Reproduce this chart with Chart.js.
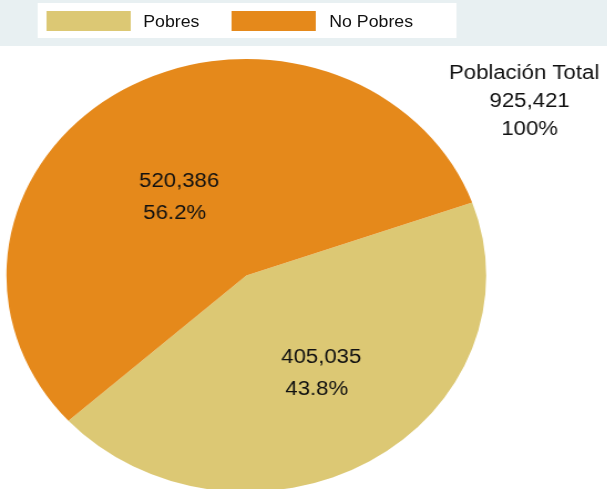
<!DOCTYPE html>
<html>
<head>
<meta charset="utf-8">
<script src="https://cdn.jsdelivr.net/npm/chart.js@4/dist/chart.umd.min.js"></script>
<style>
    body { margin: 0; overflow: hidden; background: #fff; font-family: "Liberation Sans", Arial, sans-serif; }
    #page { position: absolute; left: 0; top: 0; width: 548px; height: 500px; transform: scaleX(1.108); transform-origin: 0 0; }
    .band { position: absolute; left: 0; top: 0; width: 100%; height: 46px; background: #E8F0F2; }
    .legend-box { position: absolute; left: 34px; top: 3px; width: 378px; height: 35px; background: #fff; }
    .swatch { position: absolute; top: 8px; width: 76px; height: 20px; }
    .legend-text { position: absolute; top: 9px; font-size: 16px; line-height: 20px; color: #111; white-space: nowrap; }
    #chartWrap { position: absolute; left: 0; top: 0; }
</style>
</head>
<body>
<div id="page">
    <div class="band"></div>
    <div class="legend-box" id="legend"></div>
    <div id="chartWrap"><canvas id="pieChart" width="548" height="500"></canvas></div>
</div>
<script>
// Data
const categories = ['Pobres', 'No Pobres'];
const population = [405035, 520386];
const percentLabels = ['43.8%', '56.2%'];
const totalLines = ['Población Total', '925,421', '100%'];
const sliceColors = ['#DCC874', '#E5891B'];

// Legend (html, from the arrays above)
const legendPos = [{ sw: 7.5, tx: 95.3 }, { sw: 175.4, tx: 263.2 }];
document.getElementById('legend').innerHTML = categories.map((c, i) => `
    <div class="swatch" style="left:${legendPos[i].sw}px;background:${sliceColors[i]}"></div>
    <div class="legend-text" style="left:${legendPos[i].tx}px">${c}</div>
`).join('');

// small nudges of the label block off the arc's middle point
const labelNudge = [{ x: 12, y: 3 }, { x: -5, y: 12 }];

const labelPlugin = {
    id: 'sliceLabels',
    afterDatasetsDraw(chart) {
        const ctx = chart.ctx;
        const meta = chart.getDatasetMeta(0);
        ctx.save();
        ctx.fillStyle = '#111';
        ctx.font = '20px "Liberation Sans", Arial, sans-serif';
        ctx.textAlign = 'center';
        ctx.textBaseline = 'alphabetic';

        meta.data.forEach((arc, i) => {
            const p = arc.tooltipPosition();
            const x = p.x + labelNudge[i].x;
            const y = p.y + labelNudge[i].y;
            ctx.fillText(population[i].toLocaleString('en-US'), x, y - 8);
            ctx.fillText(percentLabels[i], x - 4, y + 24);
        });

        // total text box at the right
        ctx.fillText(totalLines[0], 473, 78.5);
        ctx.fillText(totalLines[1], 478, 107);
        ctx.fillText(totalLines[2], 478, 135);
        ctx.restore();
    }
};

new Chart(document.getElementById('pieChart'), {
    type: 'pie',
    data: {
        labels: categories,
        datasets: [{
            data: population,
            backgroundColor: sliceColors,
            borderWidth: 0
        }]
    },
    options: {
        responsive: false,
        animation: false,
        rotation: 70.3,
        layout: { padding: { left: 5.3, right: 108.7, top: 59, bottom: 8 } },
        plugins: {
            legend: { display: false },
            tooltip: { enabled: false }
        }
    },
    plugins: [labelPlugin]
});
</script>
</body>
</html>
